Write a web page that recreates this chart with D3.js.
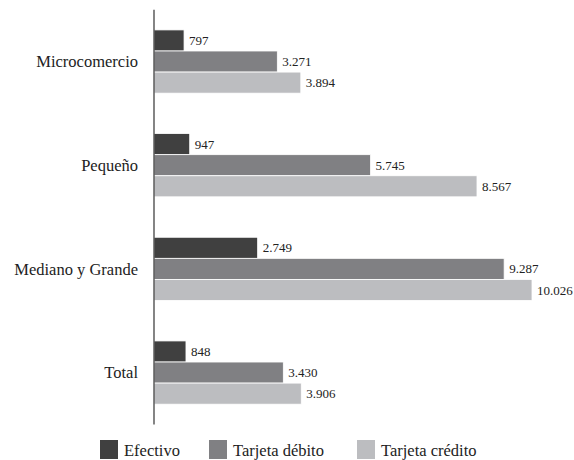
<!DOCTYPE html>
<html><head><meta charset="utf-8">
<script src="https://cdn.jsdelivr.net/npm/d3@7"></script>
<style>body{margin:0;background:#fff}svg{display:block}</style>
</head><body>
<svg id="c" width="574" height="460"></svg>
<script>
const categories = ["Microcomercio", "Pequeño", "Mediano y Grande", "Total"];
const seriesNames = ["Efectivo", "Tarjeta débito", "Tarjeta crédito"];
const efectivo = [797, 947, 2749, 848];
const debito = [3271, 5745, 9287, 3430];
const credito = [3894, 8567, 10026, 3906];
const colors = ["#404040", "#808083", "#bcbdc0"];
const seriesValues = [efectivo, debito, credito];

const svg = d3.select("#c");
const font = "'Liberation Serif', 'Times New Roman', serif";
const fmt = v => d3.format(",")(v).replace(/,/g, ".");

const x = d3.scaleLinear().domain([0, 10026]).range([154, 532]);
const y = d3.scaleBand().domain(categories).range([9.7, 424.4]).paddingInner(0.39).paddingOuter(0.195);
const yi = d3.scaleBand().domain(seriesNames).range([0, y.bandwidth()]);

const g = svg.append("g");
categories.forEach((c, ci) => {
  seriesNames.forEach((s, si) => {
    const v = seriesValues[si][ci];
    g.append("rect")
      .attr("x", x(0))
      .attr("y", y(c) + yi(s))
      .attr("width", x(v) - x(0))
      .attr("height", yi.bandwidth())
      .attr("fill", colors[si])
      .attr("stroke", "#fff").attr("stroke-width", 0.8);
    g.append("text")
      .attr("x", x(v) + 5)
      .attr("y", y(c) + yi(s) + yi.bandwidth() / 2)
      .attr("dy", "0.35em")
      .attr("font-family", font).attr("font-size", 13).attr("fill", "#222")
      .text(fmt(v));
  });
  g.append("text")
    .attr("x", 138)
    .attr("y", y(c) + y.bandwidth() / 2)
    .attr("dy", "0.35em")
    .attr("text-anchor", "end")
    .attr("font-family", font).attr("font-size", 16.5).attr("fill", "#222")
    .text(c);
});

svg.append("line")
  .attr("x1", x(0)).attr("x2", x(0))
  .attr("y1", y.range()[0]).attr("y2", y.range()[1])
  .attr("stroke", "#333").attr("stroke-width", 1.2);

const legendX = [100, 209, 357];
seriesNames.forEach((s, i) => {
  svg.append("rect").attr("x", legendX[i]).attr("y", 440).attr("width", 18).attr("height", 19).attr("fill", colors[i]);
  svg.append("text").attr("x", legendX[i] + 24).attr("y", 455.5)
    .attr("font-family", font).attr("font-size", 16.5).attr("fill", "#222").text(s);
});
</script>
</body></html>
